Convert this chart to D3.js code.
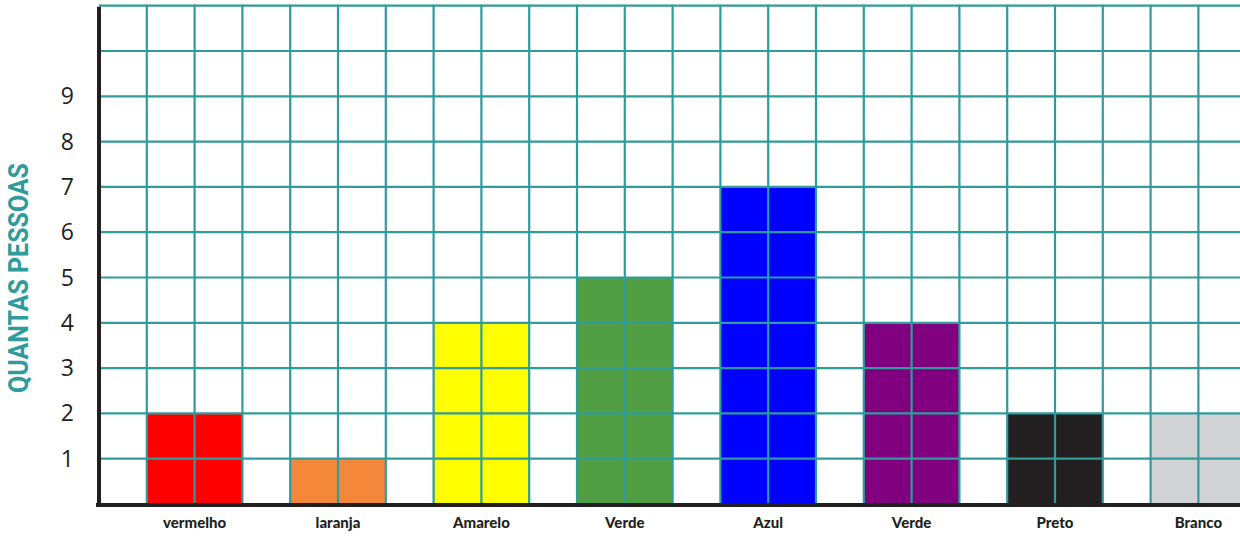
<!DOCTYPE html>
<html>
<head>
<meta charset="utf-8">
<script src="https://cdn.jsdelivr.net/npm/d3@7"></script>
<style>
  body { margin: 0; background: #fff; }
  svg { display: block; }
</style>
</head>
<body>
<svg id="chart" width="1240" height="536"></svg>
<script>
const categories = ['vermelho', 'laranja', 'Amarelo', 'Verde', 'Azul', 'Verde', 'Preto', 'Branco'];
const values = [2, 1, 4, 5, 7, 4, 2, 2];
const barColors = ['#ff0000', '#f4873a', '#ffff00', '#529e45', '#0000ff', '#800080', '#231f20', '#d1d2d4'];
const yTicks = [1, 2, 3, 4, 5, 6, 7, 8, 9];
const yMax = 11;
const yTitle = 'QUANTAS PESSOAS';

const svg = d3.select('#chart');
const plotLeft = 99, plotBottom = 504, plotTop = 5.7, cell = 47.8;
const cols = categories.length * 3;

// one band per category, each band = 3 grid cells (1 empty + 2 bar)
const x = d3.scaleBand()
    .domain(d3.range(categories.length))
    .range([plotLeft, plotLeft + cols * cell])
    .padding(0);
const y = d3.scaleLinear().domain([0, yMax]).range([plotBottom, plotTop]);
const step = x.step();

svg.selectAll('.bar')
    .data(values)
    .enter()
    .append('rect')
    .attr('class', 'bar')
    .attr('x', (d, i) => x(i) + step / 3)
    .attr('width', step * 2 / 3)
    .attr('y', (d) => y(d))
    .attr('height', (d) => y(0) - y(d))
    .attr('fill', (d, i) => barColors[i]);

const grid = svg.append('g').attr('stroke', '#2e9b9c').attr('stroke-width', 2.2);
const gridX = d3.scaleLinear().domain([0, cols]).range([plotLeft, plotLeft + cols * cell]);
grid.selectAll('.vline')
    .data(d3.range(1, cols + 1))
    .enter()
    .append('line')
    .attr('x1', (d) => gridX(d))
    .attr('x2', (d) => gridX(d))
    .attr('y1', y(yMax) - 1)
    .attr('y2', y(0));
grid.selectAll('.hline')
    .data(d3.range(1, yMax + 1))
    .enter()
    .append('line')
    .attr('x1', plotLeft)
    .attr('x2', 1240)
    .attr('y1', (d) => y(d))
    .attr('y2', (d) => y(d));

// axes
svg.append('line')
    .attr('x1', plotLeft).attr('x2', plotLeft)
    .attr('y1', y(yMax) + 1).attr('y2', y(0) + 2)
    .attr('style', 'stroke: #231f20; stroke-width: 4px;');
svg.append('line')
    .attr('x1', plotLeft - 3).attr('x2', 1240)
    .attr('y1', y(0) + 1).attr('y2', y(0) + 1)
    .attr('style', 'stroke: #231f20; stroke-width: 4px;');

svg.selectAll('.ytick')
    .data(yTicks)
    .enter()
    .append('text')
    .attr('x', 74)
    .attr('y', (d) => y(d))
    .attr('dy', '0.35em')
    .attr('text-anchor', 'end')
    .attr('font-family', 'Open Sans, sans-serif')
    .attr('font-weight', 400)
    .attr('font-size', 23)
    .attr('fill', '#231f20')
    .text((d) => d);

svg.selectAll('.xlabel')
    .data(categories)
    .enter()
    .append('text')
    .attr('x', (d, i) => x(i) + step * 2 / 3)
    .attr('y', 528)
    .attr('text-anchor', 'middle')
    .attr('font-family', 'Lato, sans-serif')
    .attr('font-weight', 900)
    .attr('font-size', 15)
    .attr('fill', '#231f20')
    .text((d) => d);

svg.append('text')
    .attr('transform', 'translate(28, 278) rotate(-90)')
    .attr('text-anchor', 'middle')
    .attr('font-family', 'Roboto, sans-serif')
    .attr('font-weight', 'bold')
    .attr('font-size', 28)
    .attr('textLength', 230)
    .attr('lengthAdjust', 'spacingAndGlyphs')
    .attr('fill', '#2e9b9c')
    .text(yTitle);
</script>
</body>
</html>
